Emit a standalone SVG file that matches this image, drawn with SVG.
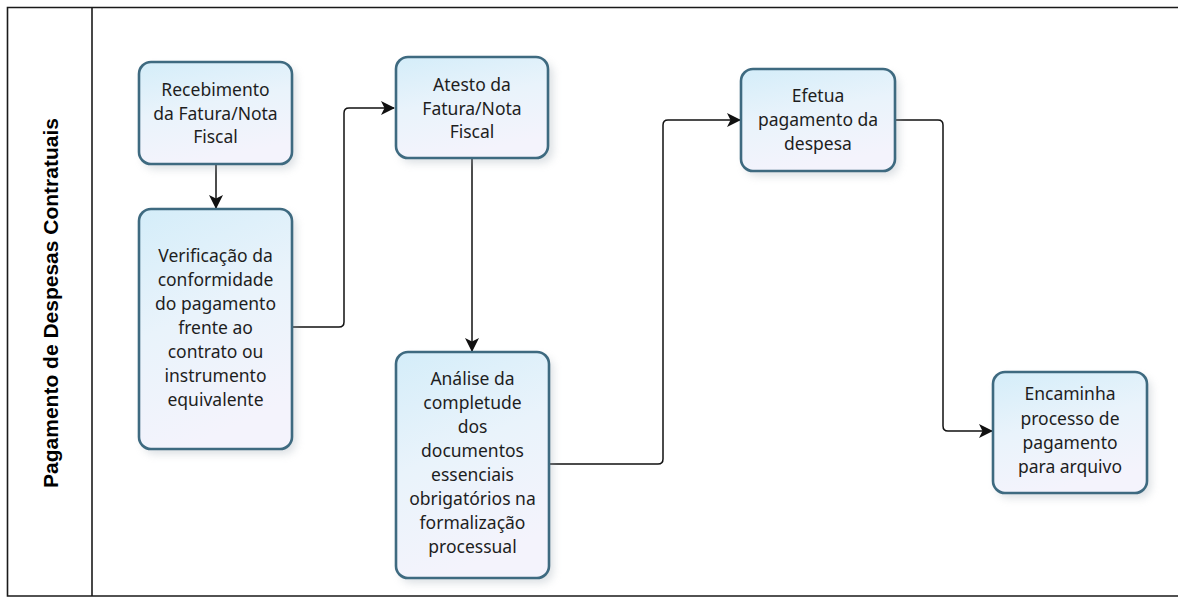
<svg xmlns="http://www.w3.org/2000/svg" width="1178" height="598" viewBox="0 0 1178 598">
  <style>
    .frame { fill: none; stroke: #1a1a1a; stroke-width: 1.6; }
    .node rect.box { fill: url(#nodeFill); stroke: #3e6a80; stroke-width: 2.6; }
    .node rect.shadow { fill: #9aa6b0; opacity: 0.35; filter: url(#blur); }
    .node text { font-family: "Noto Sans", "Open Sans", "DejaVu Sans", sans-serif; font-size: 17.5px; fill: #1e1e1e; text-anchor: middle; }
    .conn path { fill: none; stroke: #111; stroke-width: 1.5; }
    .title { font-family: "Liberation Sans", Arial, sans-serif; font-weight: bold; font-size: 21px; fill: #000; text-anchor: middle; }
  </style>
  <defs>
    <linearGradient id="nodeFill" x1="0" y1="0" x2="0.3" y2="1">
      <stop offset="0" stop-color="#d4edf9"/>
      <stop offset="0.5" stop-color="#e9f3fb"/>
      <stop offset="1" stop-color="#f4f3fc"/>
    </linearGradient>
    <filter id="blur" x="-20%" y="-20%" width="140%" height="140%">
      <feGaussianBlur stdDeviation="4"/>
    </filter>
    <marker id="arrow" viewBox="0 0 14 14" refX="13" refY="7" markerWidth="14" markerHeight="14" markerUnits="userSpaceOnUse" orient="auto">
      <path d="M0,0 L14,7 L0,14 L3.5,7 Z" fill="#111"/>
    </marker>
  </defs>

  <rect width="1178" height="598" fill="#ffffff"/>

  <g id="lane">
    <path class="frame" d="M1178,7.5 H7.5 V596 H1178"/>
    <line class="frame" x1="92" y1="7.5" x2="92" y2="596"/>
    <text class="title" transform="translate(58,303) rotate(-90)" x="0" y="0">Pagamento de Despesas Contratuais</text>
  </g>

  <g id="connectors" class="conn">
    <path d="M216,164 V208" marker-end="url(#arrow)"/>
    <path d="M292,327 H339 Q344,327 344,322 V113 Q344,108 349,108 H394" marker-end="url(#arrow)"/>
    <path d="M472,158 V351" marker-end="url(#arrow)"/>
    <path d="M549,464 H658 Q663,464 663,459 V125 Q663,120 668,120 H740" marker-end="url(#arrow)"/>
    <path d="M895,120 H938 Q943,120 943,125 V426 Q943,431 948,431 H992" marker-end="url(#arrow)"/>
  </g>

  <g id="n1" class="node">
    <rect class="shadow" x="143" y="67" width="153" height="102" rx="12"/>
    <rect class="box" x="139" y="62" width="153" height="102" rx="12"/>
    <text x="215.5" y="96">Recebimento</text>
    <text x="215.5" y="119.5">da Fatura/Nota</text>
    <text x="215.5" y="143">Fiscal</text>
  </g>

  <g id="n2" class="node">
    <rect class="shadow" x="143" y="214" width="153" height="240" rx="12"/>
    <rect class="box" x="139" y="209" width="153" height="240" rx="12"/>
    <text x="215.5" y="262">Verificação da</text>
    <text x="215.5" y="286">conformidade</text>
    <text x="215.5" y="310">do pagamento</text>
    <text x="215.5" y="334">frente ao</text>
    <text x="215.5" y="358">contrato ou</text>
    <text x="215.5" y="382">instrumento</text>
    <text x="215.5" y="406">equivalente</text>
  </g>

  <g id="n3" class="node">
    <rect class="shadow" x="400" y="62" width="153" height="101" rx="12"/>
    <rect class="box" x="396" y="57" width="152" height="101" rx="12"/>
    <text x="472" y="91">Atesto da</text>
    <text x="472" y="114.5">Fatura/Nota</text>
    <text x="472" y="138">Fiscal</text>
  </g>

  <g id="n4" class="node">
    <rect class="shadow" x="400" y="357" width="153" height="226" rx="12"/>
    <rect class="box" x="396" y="352" width="153" height="226" rx="12"/>
    <text x="472.5" y="385">Análise da</text>
    <text x="472.5" y="409">completude</text>
    <text x="472.5" y="433">dos</text>
    <text x="472.5" y="457">documentos</text>
    <text x="472.5" y="481">essenciais</text>
    <text x="472.5" y="505">obrigatórios na</text>
    <text x="472.5" y="529">formalização</text>
    <text x="472.5" y="553">processual</text>
  </g>

  <g id="n5" class="node">
    <rect class="shadow" x="745" y="74" width="154" height="102" rx="12"/>
    <rect class="box" x="741" y="69" width="154" height="102" rx="12"/>
    <text x="818" y="102">Efetua</text>
    <text x="818" y="126">pagamento da</text>
    <text x="818" y="150">despesa</text>
  </g>

  <g id="n6" class="node">
    <rect class="shadow" x="997" y="377" width="154" height="121" rx="12"/>
    <rect class="box" x="993" y="372" width="154" height="121" rx="12"/>
    <text x="1070" y="400">Encaminha</text>
    <text x="1070" y="424.5">processo de</text>
    <text x="1070" y="449">pagamento</text>
    <text x="1070" y="473">para arquivo</text>
  </g>
</svg>
